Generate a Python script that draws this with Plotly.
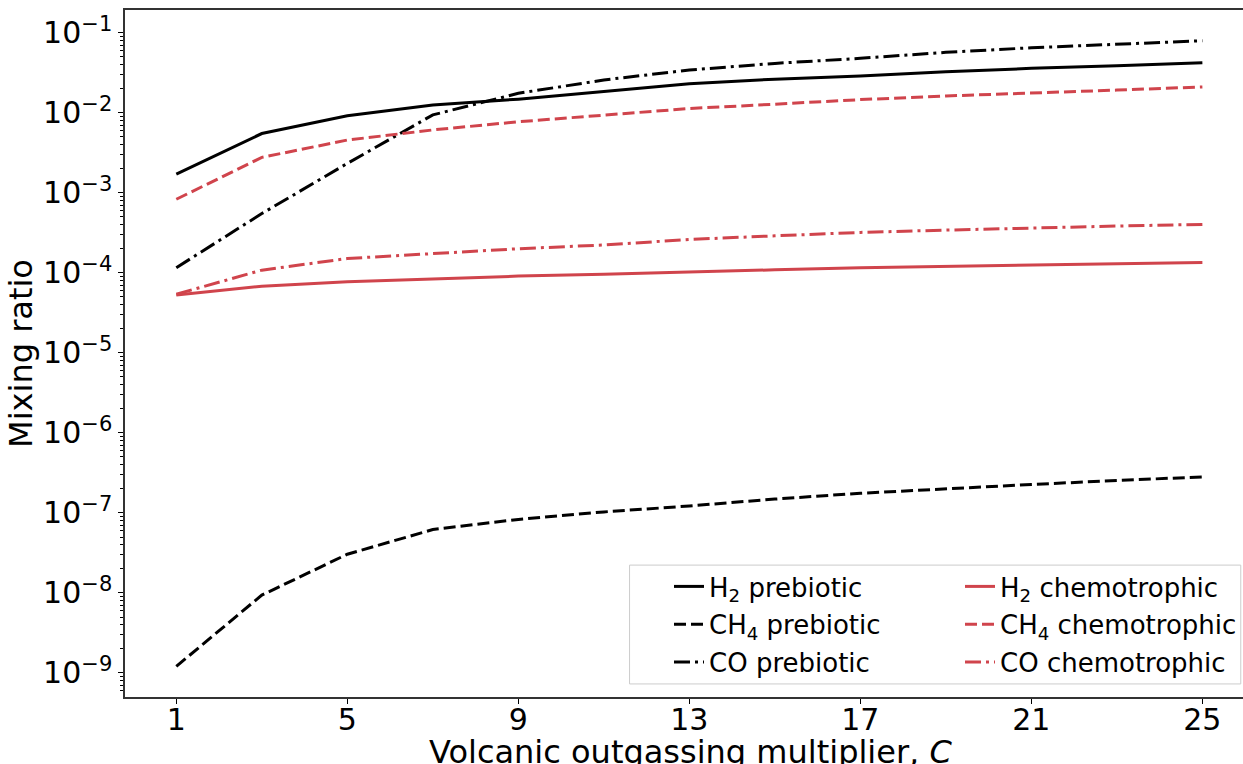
import plotly.graph_objects as go

x_vals = [1, 3, 5, 7, 9, 11, 13, 15, 17, 19, 21, 23, 25]
h2_prebiotic = [1.71e-3, 5.5e-3, 9.2e-3, 1.25e-2, 1.48e-2, 1.83e-2, 2.30e-2, 2.63e-2, 2.88e-2, 3.25e-2, 3.59e-2, 3.87e-2, 4.22e-2]
ch4_prebiotic = [1.21e-9, 9.4e-9, 3.05e-8, 6.2e-8, 8.3e-8, 1.03e-7, 1.22e-7, 1.49e-7, 1.76e-7, 2.02e-7, 2.27e-7, 2.54e-7, 2.82e-7]
co_prebiotic = [1.16e-4, 5.5e-4, 2.33e-3, 9.4e-3, 1.75e-2, 2.57e-2, 3.42e-2, 4.14e-2, 4.79e-2, 5.69e-2, 6.49e-2, 7.22e-2, 7.94e-2]
h2_chemotrophic = [5.3e-5, 6.8e-5, 7.75e-5, 8.4e-5, 9.1e-5, 9.6e-5, 1.03e-4, 1.09e-4, 1.16e-4, 1.21e-4, 1.26e-4, 1.31e-4, 1.35e-4]
ch4_chemotrophic = [8.3e-4, 2.77e-3, 4.56e-3, 6.1e-3, 7.72e-3, 9.36e-3, 1.13e-2, 1.28e-2, 1.46e-2, 1.62e-2, 1.78e-2, 1.92e-2, 2.10e-2]
co_chemotrophic = [5.4e-5, 1.08e-4, 1.51e-4, 1.75e-4, 2.0e-4, 2.23e-4, 2.61e-4, 2.9e-4, 3.2e-4, 3.42e-4, 3.66e-4, 3.84e-4, 4.03e-4]

x_ticks = [1, 5, 9, 13, 17, 21, 25]
y_exponents = [-9, -8, -7, -6, -5, -4, -3, -2, -1]
y_tickvals = [10.0 ** e for e in y_exponents]
y_ticktext = ["10<sup>\u2212%d</sup>" % (-e) for e in y_exponents]
minor_vals = [m * 10.0 ** e for e in range(-10, 0) for m in range(2, 10)]

x_title = "Volcanic outgassing multiplier, <i>C</i>"
y_title = "Mixing ratio"

BLACK = "#000000"
RED = "#d0444c"
DASH = "12px,5px"
DASHDOT = "16px,5px,3px,5px"
FONT = "DejaVu Sans"

series = [
    ("H<sub>2</sub> prebiotic", h2_prebiotic, BLACK, "solid", "legend"),
    ("CH<sub>4</sub> prebiotic", ch4_prebiotic, BLACK, DASH, "legend"),
    ("CO prebiotic", co_prebiotic, BLACK, DASHDOT, "legend"),
    ("H<sub>2</sub> chemotrophic", h2_chemotrophic, RED, "solid", "legend2"),
    ("CH<sub>4</sub> chemotrophic", ch4_chemotrophic, RED, DASH, "legend2"),
    ("CO chemotrophic", co_chemotrophic, RED, DASHDOT, "legend2"),
]

fig = go.Figure()
for i, (name, yv, col, dash, leg) in enumerate(series):
    fig.add_trace(go.Scatter(
        x=x_vals, y=yv, name=name, mode="lines",
        line=dict(color=col, width=3, dash=dash),
        legend=leg, legendgroup="g%d" % i,
    ))

# combined legend frame (matplotlib-style box)
fig.add_shape(type="rect", xref="paper", yref="paper",
              x0=0.4513, x1=0.998, y0=0.019, y1=0.192,
              line=dict(color="#cccccc", width=1),
              fillcolor="rgba(255,255,255,0.8)", layer="above")

# x-axis title placed as annotation (matches position of the reference, partly cut at bottom)
fig.add_annotation(text=x_title, xref="paper", yref="paper",
                   x=(690 - 125) / 1118, y=(697 - 752) / 687,
                   xanchor="center", yanchor="middle", showarrow=False,
                   font=dict(family=FONT, size=32, color="black"))

legend_common = dict(
    orientation="v", xanchor="left", yanchor="top",
    font=dict(family=FONT, size=26, color="black"),
    bgcolor="rgba(0,0,0,0)", borderwidth=0,
    traceorder="grouped", tracegroupgap=1,
)

fig.update_layout(
    width=1243, height=764,
    margin=dict(l=125, r=0, t=10, b=67),
    paper_bgcolor="white", plot_bgcolor="white",
    font=dict(family=FONT, color="black", size=30),
    showlegend=True,
    legend=dict(x=(669 - 125) / 1118, y=(697 - 563) / 687, **legend_common),
    legend2=dict(x=(960 - 125) / 1118, y=(697 - 563) / 687, **legend_common),
    xaxis=dict(
        range=[-0.2, 25.95],
        tickmode="array", tickvals=x_ticks,
        ticks="outside", ticklen=5, tickwidth=1, tickcolor="black",
        ticklabelstandoff=-10,
        showline=True, linecolor="#333333", linewidth=1.5, mirror=True,
        showgrid=False, zeroline=False,
        tickfont=dict(family=FONT, size=30, color="black"),
        automargin=False,
    ),
    yaxis=dict(
        type="log",
        range=[-9.3, -0.716],
        tickmode="array", tickvals=y_tickvals, ticktext=y_ticktext,
        ticks="outside", ticklen=5, tickwidth=1, tickcolor="black",
        minor=dict(tickmode="array", tickvals=minor_vals, ticks="outside",
                   ticklen=3, tickwidth=1, tickcolor="black", showgrid=False),
        showline=True, linecolor="#333333", linewidth=1.5, mirror=False,
        showgrid=False, zeroline=False,
        tickfont=dict(family=FONT, size=30, color="black"),
        title=dict(text=y_title, font=dict(family=FONT, size=32, color="black"), standoff=1),
        automargin=False,
    ),
)

fig.write_html("out.html")
